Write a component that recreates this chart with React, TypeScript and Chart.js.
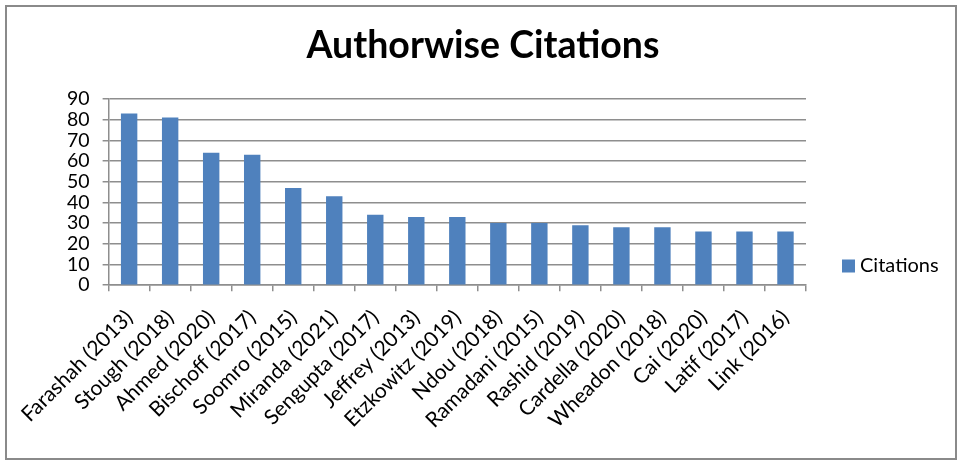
import { useEffect, useRef } from "react"
import { Chart, registerables, type ChartConfiguration, type Plugin } from "chart.js"

Chart.register(...registerables)

const authors = [
  "Farashah (2013)",
  "Stough (2018)",
  "Ahmed (2020)",
  "Bischoff (2017)",
  "Soomro (2015)",
  "Miranda (2021)",
  "Sengupta (2017)",
  "Jeffrey (2013)",
  "Etzkowitz (2019)",
  "Ndou (2018)",
  "Ramadani (2015)",
  "Rashid (2019)",
  "Cardella (2020)",
  "Wheadon (2018)",
  "Cai (2020)",
  "Latif (2017)",
  "Link (2016)",
]
const citations = [83, 81, 64, 63, 47, 43, 34, 33, 33, 30, 30, 29, 28, 28, 26, 26, 26]
const yMin = 0
const yMax = 90
const yStep = 10
const chartTitle = "Authorwise Citations"

const FONT = "Lato, 'Open Sans', sans-serif"
const GRID = "#8e8e8e"
const BAR = "#4f81bd"

// title centred on the whole canvas and legend low on the right, like the original
const decorations: Plugin = {
  id: "decorations",
  afterDraw(chart) {
    const { ctx, chartArea } = chart
    const ds = chart.data.datasets[0]
    ctx.save()
    ctx.fillStyle = "#000"
    ctx.textBaseline = "middle"
    ctx.textAlign = "center"
    ctx.font = `bold 37.5px ${FONT}`
    ctx.fillText(chartTitle, chart.width / 2 + 3, 46)

    const x = chartArea.right + 36
    const y = 266
    ctx.textAlign = "left"
    ctx.fillStyle = BAR
    ctx.fillRect(x, y - 6.5, 13, 13)
    ctx.fillStyle = "#000"
    ctx.font = `20px ${FONT}`
    ctx.fillText(String(ds.label), x + 18, y)
    ctx.restore()
  },
}

export default function App() {
  const chartRef = useRef<HTMLCanvasElement>(null)
  const chartInstance = useRef<Chart | null>(null)

  useEffect(() => {
    if (!chartRef.current) return
    if (chartInstance.current) chartInstance.current.destroy()
    document.body.style.margin = "0"

    const config: ChartConfiguration = {
      type: "bar",
      data: {
        labels: authors,
        datasets: [
          {
            label: "Citations",
            data: citations,
            backgroundColor: BAR,
            barPercentage: 0.4,
            categoryPercentage: 1,
          },
        ],
      },
      options: {
        animation: false,
        responsive: true,
        maintainAspectRatio: false,
        layout: { padding: { left: 54, right: 154, bottom: 13, top: 99 } },
        plugins: {
          title: { display: false },
          legend: { display: false },
          tooltip: { enabled: false },
        },
        scales: {
          x: {
            grid: { drawOnChartArea: false, tickLength: 6, color: GRID, lineWidth: 1.5, offset: true },
            border: { display: true, color: GRID, width: 1.5 },
            ticks: {
              color: "#000",
              font: { family: FONT, size: 21 },
              minRotation: 45,
              maxRotation: 45,
              autoSkip: false,
              padding: 14,
            },
          },
          y: {
            min: yMin,
            max: yMax,
            grid: { color: GRID, lineWidth: 1.5, tickLength: 6 },
            border: { display: true, color: GRID, width: 1.5 },
            ticks: {
              stepSize: yStep,
              autoSkip: false,
              color: "#000",
              font: { family: FONT, size: 19.5 },
              padding: 13,
            },
          },
        },
      },
      plugins: [decorations],
    }

    chartInstance.current = new Chart(chartRef.current, config)
    return () => {
      if (chartInstance.current) chartInstance.current.destroy()
      chartInstance.current = null
    }
  }, [])

  return (
    <div style={{ position: "absolute", left: 0, top: 0, width: 960, height: 460, background: "#fff" }}>
      <canvas ref={chartRef} />
      <div
        style={{
          position: "absolute",
          left: 5,
          top: 5,
          width: 948,
          height: 451,
          border: "2px solid #8a8a8a",
          pointerEvents: "none",
        }}
      />
    </div>
  )
}
